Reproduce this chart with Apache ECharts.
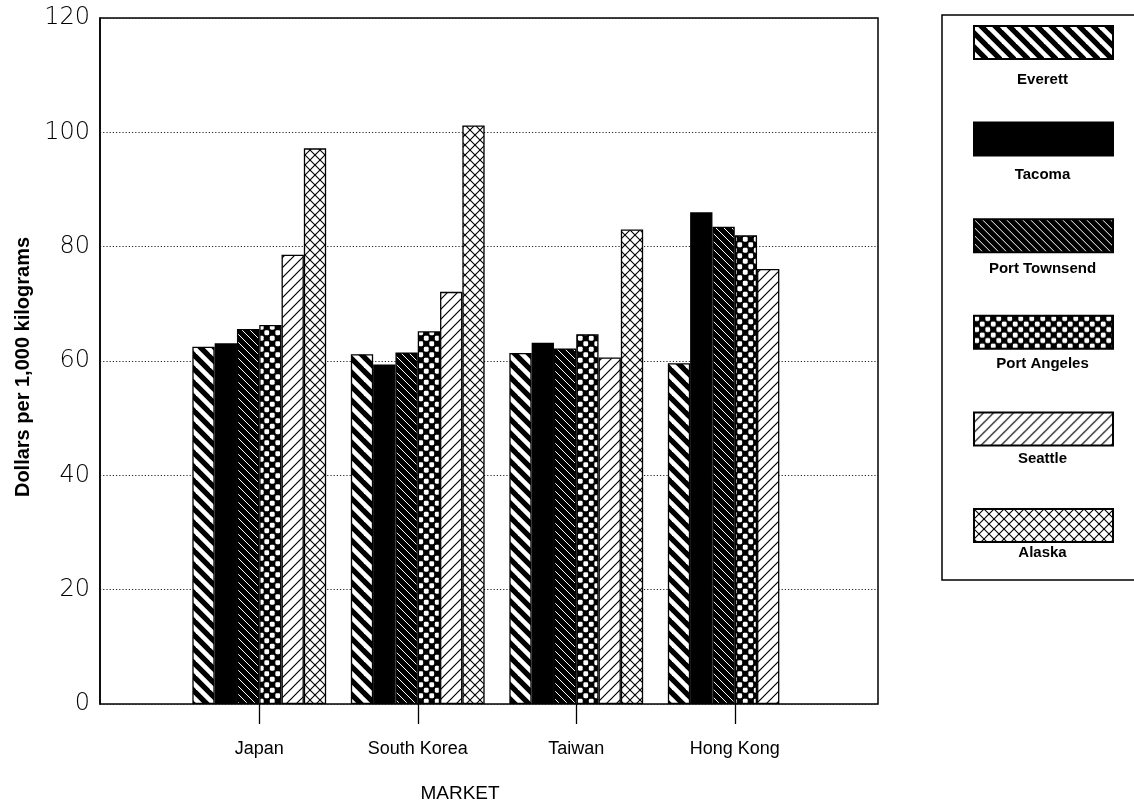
<!DOCTYPE html>
<html>
<head>
<meta charset="utf-8">
<script src="https://cdn.jsdelivr.net/npm/echarts@6/dist/echarts.min.js"></script>
<style>
  html, body { margin: 0; padding: 0; background: #fff; }
  #chart { width: 1134px; height: 806px; }
</style>
</head>
<body>
<div id="chart"></div>
<script>
// Markets on the category axis and the port groups shown as bars
const markets = ['Japan', 'South Korea', 'Taiwan', 'Hong Kong'];
const ports = ['Everett', 'Tacoma', 'Port Townsend', 'Port Angeles', 'Seattle', 'Alaska'];

// Dollars per 1,000 kilograms, one value per market
const everett      = [62.5, 61.2, 61.4, 59.6];
const tacoma       = [63.1, 59.4, 63.2, 86.0];
const portTownsend = [65.6, 61.5, 62.2, 83.5];
const portAngeles  = [66.3, 65.2, 64.7, 82.0];
const seattle      = [78.6, 72.1, 60.6, 76.1];
const alaska       = [97.2, 101.2, 83.0, null];

// Value axis range and step
const yMin = 0;
const yMax = 120;
const yStep = 20;

const seriesValues = [everett, tacoma, portTownsend, portAngeles, seattle, alaska];

// ---- fill patterns drawn on small tiles ----
function tile(w, h, draw) {
  const c = document.createElement('canvas');
  c.width = w; c.height = h;
  const g = c.getContext('2d');
  draw(g, w, h);
  return { image: c, repeat: 'repeat' };
}
function diagonal(g, s, back, color, lw) {
  // back: true => "\" direction, false => "/" direction
  g.strokeStyle = color; g.lineWidth = lw; g.lineCap = 'square';
  for (let k = -1; k <= 1; k++) {
    g.beginPath();
    if (back) { g.moveTo(k * s, 0); g.lineTo(k * s + s, s); }
    else { g.moveTo(k * s, s); g.lineTo(k * s + s, 0); }
    g.stroke();
  }
}
const fills = [
  // wide black/white stripes
  tile(14, 14, (g, w) => { g.fillStyle = '#000'; g.fillRect(0, 0, w, w); diagonal(g, w, true, '#fff', 4.6); }),
  // solid black
  '#000',
  // dense dark hatch
  tile(8, 8, (g, w) => { g.fillStyle = '#000'; g.fillRect(0, 0, w, w); diagonal(g, w, true, '#fff', 1.0); }),
  // checkerboard
  tile(11, 11, (g, w) => {
    g.fillStyle = '#000'; g.fillRect(0, 0, w, w);
    g.fillStyle = '#fff';
    const r = (x, y) => { g.beginPath(); g.roundRect ? g.roundRect(x, y, 4.8, 4.8, 1.4) : g.rect(x, y, 4.8, 4.8); g.fill(); };
    r(0.35, 0.35); r(5.85, 5.85);
  }),
  // light single hatch
  tile(10, 10, (g, w) => { g.fillStyle = '#fff'; g.fillRect(0, 0, w, w); diagonal(g, w, false, '#000', 1.2); }),
  // cross hatch
  tile(10, 10, (g, w) => { g.fillStyle = '#fff'; g.fillRect(0, 0, w, w); diagonal(g, w, false, '#000', 1.1); diagonal(g, w, true, '#000', 1.1); })
];

const baseFont = 'Liberation Sans, Arial, sans-serif';

// legend frame and captions under each swatch
const legendLeft = 973, legendTop = 25, swatchW = 139, swatchH = 33, legendStep = 94.6;
const graphics = [{
  type: 'rect', x: 942, y: 15, silent: true,
  shape: { width: 230, height: 565 },
  style: { fill: 'none', stroke: '#000', lineWidth: 1.5 }
}];
ports.forEach((p, i) => {
  graphics.push({
    type: 'text', x: legendLeft + swatchW / 2, y: legendTop + i * legendStep + 55, silent: true,
    style: { text: p, align: 'center', verticalAlign: 'middle', fill: '#000',
             font: 'bold 15px ' + baseFont }
  });
});

const chart = echarts.init(document.getElementById('chart'), null, { renderer: 'canvas' });
chart.setOption({
  animation: false,
  backgroundColor: '#fff',
  textStyle: { fontFamily: baseFont },
  grid: [
    // framed plot area
    { left: 100, top: 18, width: 778, height: 686, show: true, borderColor: '#000', borderWidth: 1.5,
      containLabel: false, outerBoundsMode: 'none' },
    // band used by the bar groups
    { left: 180, top: 18, width: 634, height: 686, containLabel: false, outerBoundsMode: 'none' }
  ],
  xAxis: [
    { gridIndex: 0, type: 'value', min: 0, max: 1, show: false },
    {
      gridIndex: 1, type: 'category', data: markets,
      axisLine: { show: false },
      axisTick: { show: true, alignWithLabel: true, length: 20, lineStyle: { color: '#000', width: 1.3 } },
      axisLabel: { margin: 36, fontSize: 18, color: '#000', fontFamily: baseFont },
      name: 'MARKET', nameLocation: 'middle', nameGap: 80,
      nameTextStyle: { fontSize: 19, color: '#000', fontFamily: baseFont, padding: [0, 74, 0, 0] }
    }
  ],
  yAxis: [
    {
      gridIndex: 0, type: 'value', min: yMin, max: yMax, interval: yStep,
      axisLine: { show: true, lineStyle: { color: '#000', width: 1.5 } },
      axisTick: { show: false },
      axisLabel: { margin: 10, fontSize: 24, color: '#000', fontFamily: 'DejaVu Sans', fontWeight: 200 },
      splitLine: { show: true, lineStyle: { color: '#222', width: 1, type: [1.2, 2] } },
      name: 'Dollars per 1,000 kilograms', nameLocation: 'middle', nameRotate: 90, nameGap: 66,
      nameTextStyle: { fontSize: 20, fontWeight: 'bold', color: '#000', fontFamily: baseFont, padding: [0, 12, 0, 0] }
    },
    { gridIndex: 1, type: 'value', min: yMin, max: yMax, interval: yStep, show: false }
  ],
  legend: {
    data: ports, orient: 'vertical', left: legendLeft, top: legendTop, padding: 0,
    itemWidth: swatchW, itemHeight: swatchH, itemGap: legendStep - swatchH,
    icon: 'rect', selectedMode: false,
    formatter: () => '',
    textStyle: { fontSize: 1 }
  },
  graphic: graphics,
  series: ports.map((p, i) => ({
    name: p, type: 'bar', xAxisIndex: 1, yAxisIndex: 1,
    data: seriesValues[i],
    barWidth: 22.3, barGap: '0%',
    itemStyle: { color: fills[i], borderColor: '#000', borderWidth: 1.3 }
  }))
});
</script>
</body>
</html>
